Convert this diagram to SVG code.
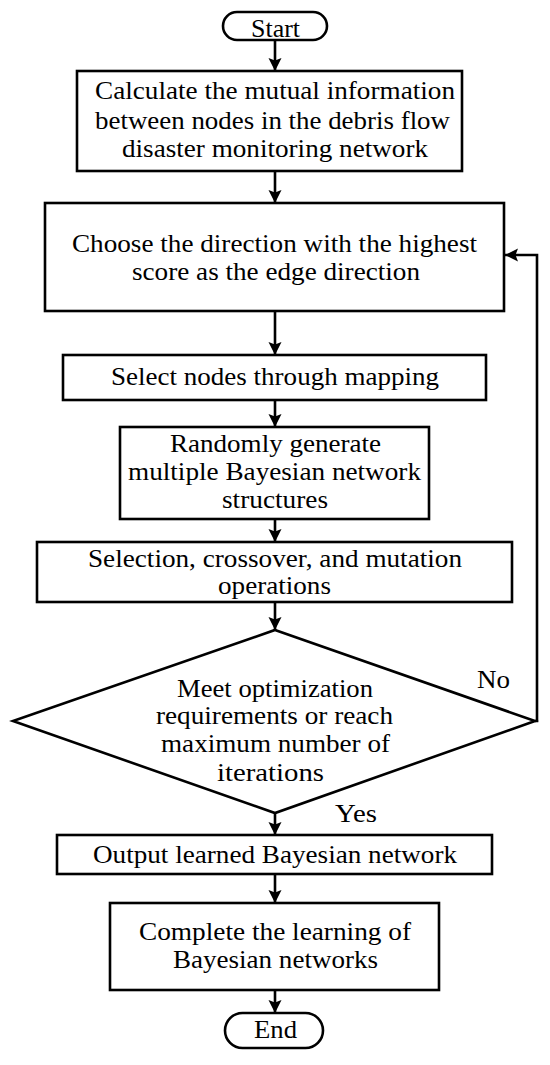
<svg xmlns="http://www.w3.org/2000/svg" width="550" height="1065" viewBox="0 0 550 1065" font-family="'Liberation Serif', 'Times New Roman', serif">
<style>
.box{fill:#fff;stroke:#000;stroke-width:2.6}
.ln{fill:none;stroke:#000;stroke-width:2.6}
text{font-family:"Liberation Serif","Times New Roman",serif;font-size:26px;fill:#000;text-anchor:middle}
</style>
<defs>
<marker id="ah" markerUnits="userSpaceOnUse" markerWidth="14" markerHeight="14" refX="13" refY="6.5" orient="auto">
<path d="M0,0 L13,6.5 L0,13 L2.5,6.5 z" fill="#000"/>
</marker>
</defs>
<g id="connectors">
<line class="ln" x1="275" y1="40" x2="275" y2="71" marker-end="url(#ah)"/>
<line class="ln" x1="275" y1="171" x2="275" y2="203" marker-end="url(#ah)"/>
<line class="ln" x1="275" y1="311" x2="275" y2="355" marker-end="url(#ah)"/>
<line class="ln" x1="275" y1="400" x2="275" y2="427" marker-end="url(#ah)"/>
<line class="ln" x1="275" y1="519" x2="275" y2="542" marker-end="url(#ah)"/>
<line class="ln" x1="275" y1="602" x2="275" y2="630" marker-end="url(#ah)"/>
<line class="ln" x1="275" y1="813" x2="275" y2="835" marker-end="url(#ah)"/>
<line class="ln" x1="275" y1="874" x2="275" y2="903" marker-end="url(#ah)"/>
<line class="ln" x1="275" y1="990" x2="275" y2="1013" marker-end="url(#ah)"/>
<polyline class="ln" points="535,721 537,721 537,255 505,255" marker-end="url(#ah)"/>
<text x="493.5" y="688" textLength="33" lengthAdjust="spacingAndGlyphs">No</text>
<text x="356" y="822" textLength="42" lengthAdjust="spacingAndGlyphs">Yes</text>
</g>
<g id="start">
<rect class="box" x="223" y="12" width="104" height="28" rx="14"/>
<text x="275.5" y="37" textLength="49" lengthAdjust="spacingAndGlyphs">Start</text>
</g>
<g id="calc">
<rect class="box" x="77" y="71" width="385" height="100"/>
<text x="275" y="99" textLength="360" lengthAdjust="spacingAndGlyphs">Calculate the mutual information</text>
<text x="272.5" y="129" textLength="355" lengthAdjust="spacingAndGlyphs">between nodes in the debris flow</text>
<text x="275" y="157" textLength="306" lengthAdjust="spacingAndGlyphs">disaster monitoring network</text>
</g>
<g id="choose">
<rect class="box" x="45" y="203" width="459" height="108"/>
<text x="274.5" y="252" textLength="405" lengthAdjust="spacingAndGlyphs">Choose the direction with the highest</text>
<text x="276" y="280" textLength="288" lengthAdjust="spacingAndGlyphs">score as the edge direction</text>
</g>
<g id="select">
<rect class="box" x="63" y="355" width="423" height="45"/>
<text x="275" y="385" textLength="328" lengthAdjust="spacingAndGlyphs">Select nodes through mapping</text>
</g>
<g id="random">
<rect class="box" x="120" y="427" width="309" height="92"/>
<text x="275.5" y="452" textLength="211" lengthAdjust="spacingAndGlyphs">Randomly generate</text>
<text x="274.5" y="480" textLength="293" lengthAdjust="spacingAndGlyphs">multiple Bayesian network</text>
<text x="275" y="508" textLength="106" lengthAdjust="spacingAndGlyphs">structures</text>
</g>
<g id="selection">
<rect class="box" x="37" y="542" width="475" height="60"/>
<text x="275" y="567" textLength="374" lengthAdjust="spacingAndGlyphs">Selection, crossover, and mutation</text>
<text x="274.5" y="594" textLength="113" lengthAdjust="spacingAndGlyphs">operations</text>
</g>
<g id="decision">
<polygon class="box" points="275,630 535,721 275,813 13,721"/>
<text x="275" y="697" textLength="196" lengthAdjust="spacingAndGlyphs">Meet optimization</text>
<text x="274.5" y="724" textLength="237" lengthAdjust="spacingAndGlyphs">requirements or reach</text>
<text x="275.5" y="752" textLength="229" lengthAdjust="spacingAndGlyphs">maximum number of</text>
<text x="270.5" y="781" textLength="107" lengthAdjust="spacingAndGlyphs">iterations</text>
</g>
<g id="output">
<rect class="box" x="57" y="835" width="435" height="39"/>
<text x="275" y="863" textLength="364" lengthAdjust="spacingAndGlyphs">Output learned Bayesian network</text>
</g>
<g id="complete">
<rect class="box" x="110" y="903" width="329" height="87"/>
<text x="275" y="940" textLength="272" lengthAdjust="spacingAndGlyphs">Complete the learning of</text>
<text x="275.5" y="968" textLength="205" lengthAdjust="spacingAndGlyphs">Bayesian networks</text>
</g>
<g id="end">
<rect class="box" x="225" y="1013" width="98" height="35" rx="17.5"/>
<text x="275.5" y="1038" textLength="43" lengthAdjust="spacingAndGlyphs">End</text>
</g>
</svg>
